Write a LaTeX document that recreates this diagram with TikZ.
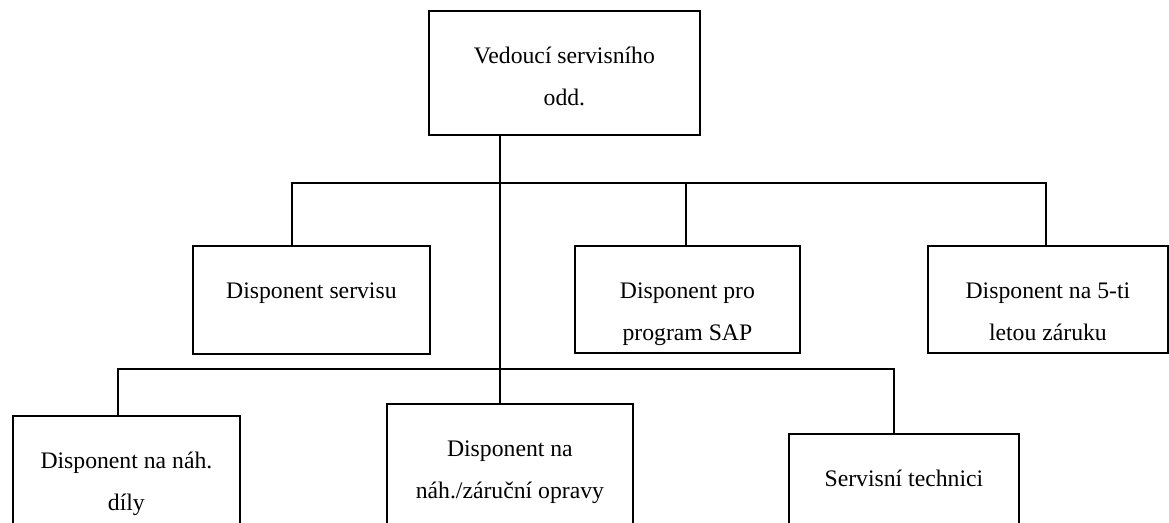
\documentclass[tikz,border=0pt]{standalone}
\usepackage{fontspec}
\setmainfont{Liberation Serif}
\begin{document}
\begin{tikzpicture}[x=1pt, y=-1pt, line width=1.8pt,
  unit/.style={draw, line width=1.8pt, inner sep=0pt, anchor=north west},
  caption/.style={anchor=north, inner sep=0pt, align=center, yshift=-23pt,
    font=\fontsize{23.7}{42}\selectfont},
]
% page area; the lowest row runs past the lower edge
\clip (0,0) rectangle (1169,522);
\fill[white] (0,0) rectangle (1169,522);

% head of the department
\node[unit, minimum width=271pt, minimum height=124pt,
  label={[caption]north:{\rule{0pt}{30pt}Vedoucí servisního\\odd.}}]
  (head) at (428,10) {};

% middle row
\node[unit, minimum width=237pt, minimum height=108pt,
  label={[caption]north:{\rule{0pt}{30pt}Disponent servisu}}]
  (serv) at (192,245) {};
\node[unit, minimum width=225pt, minimum height=107pt,
  label={[caption]north:{\rule{0pt}{30pt}Disponent pro\\program SAP}}]
  (sap) at (574,245) {};
\node[unit, minimum width=240pt, minimum height=107pt,
  label={[caption]north:{\rule{0pt}{30pt}Disponent na 5-ti\\letou záruku}}]
  (zaruka) at (927,245) {};

% lower row
\node[unit, minimum width=227pt, minimum height=150pt,
  label={[caption]north:{\rule{0pt}{30pt}Disponent na náh.\\díly}}]
  (dily) at (12,415) {};
\node[unit, minimum width=246pt, minimum height=160pt,
  label={[caption]north:{\rule{0pt}{30pt}Disponent na\\náh./záruční opravy}}]
  (opravy) at (386,403) {};
\node[unit, minimum width=230pt, minimum height=130pt,
  label={[caption]north:{\rule{0pt}{30pt}Servisní technici}}]
  (tech) at (788,433) {};

% junction points of the connector lines
\coordinate (trunk) at (500,183);
\coordinate (busA) at (292,183);
\coordinate (busB) at (686,183);
\coordinate (busC) at (1046,183);
\coordinate (lowA) at (118,369);
\coordinate (lowC) at (894,369);

% trunk from the head down to the lower row
\draw (head.south -| trunk) -- (opravy.north -| trunk);

% upper bus and its drops
\draw (busA |- serv.north) -- (busA) -- (busC) -- (busC |- zaruka.north);
\draw (busB) -- (busB |- sap.north);

% lower bus and its drops
\draw (lowA |- dily.north) -- (lowA) -- (lowC) -- (lowC |- tech.north);
\end{tikzpicture}
\end{document}
